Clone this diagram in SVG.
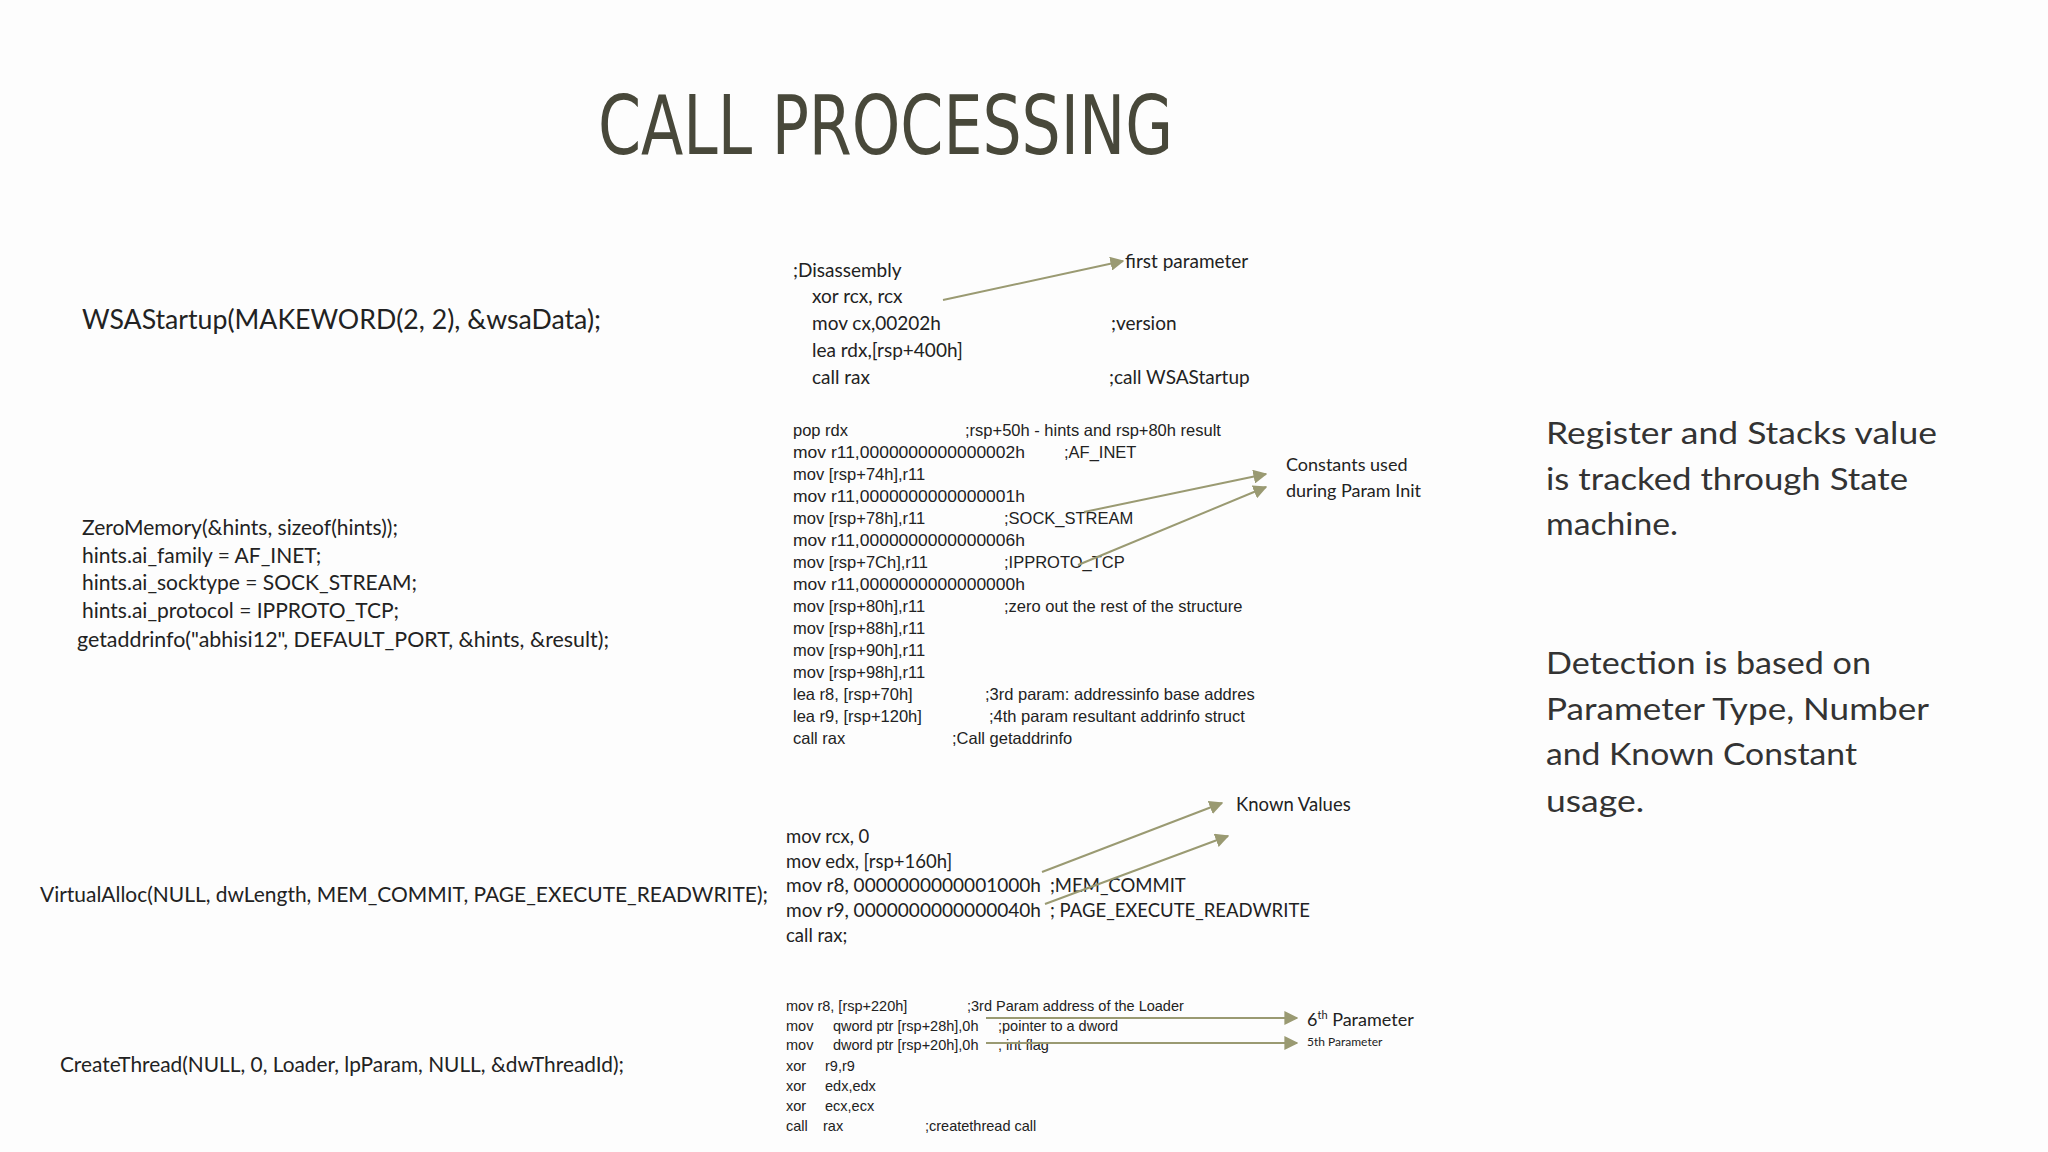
<svg xmlns="http://www.w3.org/2000/svg" width="2048" height="1152" viewBox="0 0 2048 1152">
<defs>
<style>
.c{font-family:"Lato","Liberation Sans",sans-serif;fill:#222}
.a{font-family:"Liberation Sans",sans-serif;fill:#222;font-size:16.5px}
.b{font-family:"Liberation Sans",sans-serif;fill:#222;font-size:14.5px}
.r{font-family:"Lato","Liberation Sans",sans-serif;fill:#333;font-size:31px}
.ln{stroke:#9a9a72;stroke-width:2;fill:none;marker-end:url(#ah)}
</style>
<marker id="ah" viewBox="0 0 10 10" refX="9" refY="5" markerWidth="7" markerHeight="7" orient="auto" markerUnits="strokeWidth"><path d="M0,0L10,5L0,10z" fill="#9a9a72"/></marker>
</defs>
<rect width="2048" height="1152" fill="#fdfdfd"/>
<g id="title"><text x="598" y="154" font-family="DejaVu Sans Condensed,Liberation Sans,sans-serif" font-size="82" fill="#48483a" textLength="575" lengthAdjust="spacingAndGlyphs">CALL PROCESSING</text></g>
<g id="src">
<text class="c" x="82" y="329" font-size="26" textLength="519" lengthAdjust="spacingAndGlyphs">WSAStartup(MAKEWORD(2, 2), &amp;wsaData);</text>
<text class="c" x="82" y="535" font-size="21">ZeroMemory(&amp;hints, sizeof(hints));</text>
<text class="c" x="82" y="563" font-size="21">hints.ai_family = AF_INET;</text>
<text class="c" x="82" y="590" font-size="21">hints.ai_socktype = SOCK_STREAM;</text>
<text class="c" x="82" y="618" font-size="21">hints.ai_protocol = IPPROTO_TCP;</text>
<text class="c" x="77" y="647" font-size="21" textLength="532" lengthAdjust="spacingAndGlyphs">getaddrinfo("abhisi12", DEFAULT_PORT, &amp;hints, &amp;result);</text>
<text class="c" x="40" y="902" font-size="21" textLength="728" lengthAdjust="spacingAndGlyphs">VirtualAlloc(NULL, dwLength,  MEM_COMMIT, PAGE_EXECUTE_READWRITE);</text>
<text class="c" x="60" y="1072" font-size="21" textLength="564" lengthAdjust="spacingAndGlyphs">CreateThread(NULL, 0, Loader, lpParam, NULL, &amp;dwThreadId);</text>
</g>
<g id="asm1">
<text class="c" x="793" y="277" font-size="19">;Disassembly</text>
<text class="c" x="812" y="303" font-size="19">xor  rcx, rcx</text>
<text class="c" x="812" y="330" font-size="19">mov  cx,00202h</text>
<text class="c" x="812" y="357" font-size="19">lea  rdx,[rsp+400h]</text>
<text class="c" x="812" y="384" font-size="19">call rax</text>
<text class="c" x="1111" y="330" font-size="19">;version</text>
<text class="c" x="1109" y="384" font-size="19">;call WSAStartup</text>
<text class="c" x="1125" y="268" font-size="19">first  parameter</text>
</g>
<g id="asm2">
<text class="a" x="793" y="436">pop rdx</text><text class="a" x="965" y="436">;rsp+50h - hints and rsp+80h result</text>
<text class="a" x="793" y="458" textLength="232" lengthAdjust="spacingAndGlyphs">mov r11,0000000000000002h</text><text class="a" x="1064" y="458">;AF_INET</text>
<text class="a" x="793" y="480">mov [rsp+74h],r11</text>
<text class="a" x="793" y="502" textLength="232" lengthAdjust="spacingAndGlyphs">mov r11,0000000000000001h</text>
<text class="a" x="793" y="524">mov [rsp+78h],r11</text><text class="a" x="1004" y="524">;SOCK_STREAM</text>
<text class="a" x="793" y="546" textLength="232" lengthAdjust="spacingAndGlyphs">mov r11,0000000000000006h</text>
<text class="a" x="793" y="568">mov [rsp+7Ch],r11</text><text class="a" x="1004" y="568">;IPPROTO_TCP</text>
<text class="a" x="793" y="590" textLength="232" lengthAdjust="spacingAndGlyphs">mov r11,0000000000000000h</text>
<text class="a" x="793" y="612">mov [rsp+80h],r11</text><text class="a" x="1004" y="612">;zero out the rest of the structure</text>
<text class="a" x="793" y="634">mov [rsp+88h],r11</text>
<text class="a" x="793" y="656">mov [rsp+90h],r11</text>
<text class="a" x="793" y="678">mov [rsp+98h],r11</text>
<text class="a" x="793" y="700">lea r8, [rsp+70h]</text><text class="a" x="985" y="700">;3rd param: addressinfo base addres</text>
<text class="a" x="793" y="722">lea r9, [rsp+120h]</text><text class="a" x="989" y="722">;4th param resultant addrinfo struct</text>
<text class="a" x="793" y="744">call rax</text><text class="a" x="952" y="744">;Call getaddrinfo</text>
<text class="c" x="1286" y="471" font-size="18">Constants  used</text>
<text class="c" x="1286" y="497" font-size="18">during  Param  Init</text>
</g>
<g id="asm3">
<text class="c" x="1236" y="811" font-size="18.5">Known Values</text>
<text class="c" x="786" y="843" font-size="18.5">mov rcx, 0</text>
<text class="c" x="786" y="868" font-size="18.5">mov edx, [rsp+160h]</text>
<text class="c" x="786" y="892" font-size="18.5" textLength="255" lengthAdjust="spacingAndGlyphs">mov r8,  0000000000001000h</text><text class="c" x="1050" y="892" font-size="18.5">;MEM_COMMIT</text>
<text class="c" x="786" y="917" font-size="18.5" textLength="255" lengthAdjust="spacingAndGlyphs">mov r9,  0000000000000040h</text><text class="c" x="1050" y="917" font-size="18.5">; PAGE_EXECUTE_READWRITE</text>
<text class="c" x="786" y="942" font-size="18.5">call rax;</text>
</g>
<g id="asm4">
<text class="b" x="786" y="1011">mov r8, [rsp+220h]</text><text class="b" x="967" y="1011">;3rd Param address of the Loader</text>
<text class="b" x="786" y="1031">mov</text><text class="b" x="833" y="1031">qword ptr [rsp+28h],0h</text><text class="b" x="998" y="1031">;pointer to a dword</text>
<text class="b" x="786" y="1050">mov</text><text class="b" x="833" y="1050">dword ptr [rsp+20h],0h</text><text class="b" x="998" y="1050">; int flag</text>
<text class="b" x="786" y="1071">xor</text><text class="b" x="825" y="1071">r9,r9</text>
<text class="b" x="786" y="1091">xor</text><text class="b" x="825" y="1091">edx,edx</text>
<text class="b" x="786" y="1111">xor</text><text class="b" x="825" y="1111">ecx,ecx</text>
<text class="b" x="786" y="1131">call</text><text class="b" x="823" y="1131">rax</text><text class="b" x="925" y="1131">;createthread call</text>
<text class="c" x="1307" y="1026" font-size="18">6<tspan font-size="11" dy="-7">th</tspan><tspan dy="7"> Parameter</tspan></text>
<text class="c" x="1307" y="1046" font-size="12">5th Parameter</text>
</g>
<g id="notes">
<text class="r" x="1546" y="444" textLength="391" lengthAdjust="spacingAndGlyphs">Register and Stacks value</text>
<text class="r" x="1546" y="490" textLength="362" lengthAdjust="spacingAndGlyphs">is tracked through State</text>
<text class="r" x="1546" y="535" textLength="132" lengthAdjust="spacingAndGlyphs">machine.</text>
<text class="r" x="1546" y="674" textLength="325" lengthAdjust="spacingAndGlyphs">Detection is based on</text>
<text class="r" x="1546" y="720" textLength="383" lengthAdjust="spacingAndGlyphs">Parameter Type, Number</text>
<text class="r" x="1546" y="765" textLength="311" lengthAdjust="spacingAndGlyphs">and Known Constant</text>
<text class="r" x="1546" y="812" textLength="98" lengthAdjust="spacingAndGlyphs">usage.</text>
</g>
<g id="connectors">
<path class="ln" d="M943,300L1123,261"/>
<path class="ln" d="M1084,512L1266,474"/>
<path class="ln" d="M1078,565L1266,487"/>
<path class="ln" d="M1042,872L1222,803"/>
<path class="ln" d="M1045,904L1228,836"/>
<path class="ln" d="M986,1018L1297,1018"/>
<path class="ln" d="M986,1043L1297,1043"/>
</g>
</svg>
